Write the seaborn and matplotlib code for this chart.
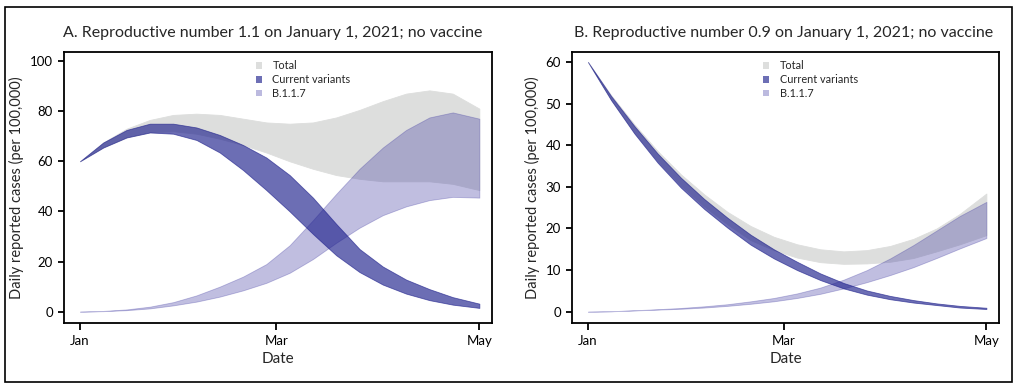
import matplotlib
matplotlib.use("Agg")
import matplotlib.pyplot as plt
from matplotlib.patches import Patch, Rectangle
import seaborn as sns
import pandas as pd

# ---------------- data ----------------
days = [0, 7, 14, 21, 28, 35, 42, 49, 56, 63, 70, 77, 84, 91, 98, 105, 112, 120]

# Panel A (R = 1.1)
a_total_low = [60, 65.5, 69.5, 71.5, 72, 71, 69, 66.5, 63.5, 60, 57, 54.5, 53, 52, 52, 52, 51, 48.5]
a_total_high = [60, 67.5, 73, 76.5, 78.5, 79, 78.5, 77, 75.5, 75, 75.5, 77.5, 80.5, 84, 87, 88.3, 87, 81]
a_curr_low = [60, 65.5, 69.5, 71.5, 71, 68.5, 63.5, 56.5, 48.5, 40, 31, 22.5, 15.8, 10.8, 7.2, 4.6, 2.8, 1.5]
a_curr_high = [60, 67.5, 72.5, 75, 75, 73.5, 70.5, 66.5, 61.5, 54.5, 45.5, 35, 25, 18, 12.8, 9, 5.8, 3.2]
a_b117_low = [0, 0.2, 0.6, 1.3, 2.5, 4, 6, 8.5, 11.5, 15.5, 21, 27.5, 33.5, 38.5, 42, 44.5, 45.8, 45.5]
a_b117_high = [0, 0.3, 0.9, 2, 3.8, 6.5, 10, 14, 19, 26.5, 36.5, 47, 57, 65.5, 72.5, 77.5, 79.5, 77]

# Panel B (R = 0.9)
b_total_low = [60, 50.9, 43, 36.2, 30.3, 25.3, 21, 17.2, 14.8, 13, 11.9, 11.5, 11.6, 12, 12.9, 14.5, 16.2, 18.4]
b_total_high = [60, 52, 45, 38.6, 33, 28.2, 24, 20.6, 18, 16.2, 15, 14.5, 14.8, 15.8, 17.5, 20, 23.5, 28.4]
b_curr_low = [60, 50.8, 42.8, 35.8, 29.8, 24.7, 20.2, 16.1, 12.8, 10, 7.6, 5.6, 4.1, 3, 2.2, 1.6, 1, 0.65]
b_curr_high = [60, 51.8, 44.6, 38, 32.2, 27.1, 22.6, 18.5, 15, 12, 9.2, 6.9, 5.1, 3.8, 2.8, 2, 1.4, 0.95]
b_b117_low = [0, 0.1, 0.3, 0.5, 0.7, 1, 1.4, 1.9, 2.5, 3.3, 4.3, 5.6, 7.1, 8.8, 10.7, 12.9, 15.2, 17.7]
b_b117_high = [0, 0.12, 0.35, 0.6, 0.9, 1.3, 1.8, 2.5, 3.3, 4.4, 5.8, 7.7, 10, 12.8, 16, 19.5, 23, 26.4]

series_labels = ["Total", "Current variants", "B.1.1.7"]
titles = ["A. Reproductive number 1.1 on January 1, 2021; no vaccine",
          "B. Reproductive number 0.9 on January 1, 2021; no vaccine"]
yticks_a = [0, 20, 40, 60, 80, 100]
yticks_b = [0, 10, 20, 30, 40, 50, 60]
xtick_dates = ["2021-01-01", "2021-03-01", "2021-05-01"]
xtick_labels = ["Jan", "Mar", "May"]

# ---------------- style ----------------
sns.set_style("ticks")
plt.rcParams["font.family"] = ["Lato", "DejaVu Sans"]
plt.rcParams["axes.linewidth"] = 1.3
plt.rcParams["xtick.major.width"] = 1.3
plt.rcParams["ytick.major.width"] = 1.3
plt.rcParams["xtick.major.size"] = 5
plt.rcParams["ytick.major.size"] = 4.5
plt.rcParams["xtick.color"] = "black"
plt.rcParams["ytick.color"] = "black"
plt.rcParams["axes.edgecolor"] = "black"

col_total = "#dddedd"
col_curr = "#1e208c"
col_b117 = "#3c36a0"
alpha_curr = 0.65
alpha_b117 = 0.32
leg_colors = ["#dddedd", "#6d6fb5", "#bcbadf"]

start = pd.Timestamp("2021-01-01")
dates = list(start + pd.to_timedelta(days, unit="D"))


def band_df(low, high):
    return pd.DataFrame({"date": dates + dates, "value": list(low) + list(high)})


fig = plt.figure(figsize=(10.2, 3.87), dpi=100)
ax_a = fig.add_axes([64 / 1020, 1 - 322.7 / 387, 428 / 1020, 270.7 / 387])
ax_b = fig.add_axes([572 / 1020, 1 - 322.7 / 387, 427 / 1020, 270.7 / 387])

panels = [
    (ax_a, (a_total_low, a_total_high), (a_b117_low, a_b117_high), (a_curr_low, a_curr_high),
     yticks_a, (-4.4, 103.6), 0.487),
    (ax_b, (b_total_low, b_total_high), (b_b117_low, b_b117_high), (b_curr_low, b_curr_high),
     yticks_b, (-2.64, 62.4), 0.4965),
]

for i, (ax, tot, b117, cur, yt, ylim, tx) in enumerate(panels):
    for (lo, hi), col, al in [(tot, col_total, 1.0), (b117, col_b117, alpha_b117), (cur, col_curr, alpha_curr)]:
        sns.lineplot(data=band_df(lo, hi), x="date", y="value", estimator="mean",
                     errorbar=("pi", 100), color=col, linewidth=0, legend=False,
                     err_kws=dict(alpha=al, linewidth=0.6), ax=ax)
    ax.set_xlim(start - pd.Timedelta(days=4.8), pd.Timestamp("2021-05-01") + pd.Timedelta(days=3.8))
    ax.set_ylim(*ylim)
    ax.set_yticks(yt)
    ax.set_xticks([pd.Timestamp(d) for d in xtick_dates])
    ax.set_xticklabels(xtick_labels)
    ax.tick_params(labelsize=9.5, pad=3.5)
    ax.set_xlabel("Date", fontsize=11, labelpad=4)
    ax.set_ylabel("Daily reported cases (per 100,000)", fontsize=10.5, labelpad=4)
    ax.set_title(titles[i], fontsize=11.5, x=tx, pad=11)
    for s in ax.spines.values():
        s.set_visible(True)
        s.set_linewidth(1.3)
    handles = [Patch(facecolor=c, edgecolor="none") for c in leg_colors]
    ax.legend(handles, series_labels, loc="upper left", bbox_to_anchor=(0.43, 0.997),
              frameon=False, fontsize=7.8, handlelength=0.55, handleheight=0.55,
              handletextpad=1.0, labelspacing=0.25, borderaxespad=0.3)

fig.patches.append(Rectangle((5 / 1020, 5 / 387), 1007 / 1020, 375 / 387, transform=fig.transFigure,
                             fill=False, edgecolor="black", linewidth=1.2))

fig.savefig("out.png", dpi=100)
